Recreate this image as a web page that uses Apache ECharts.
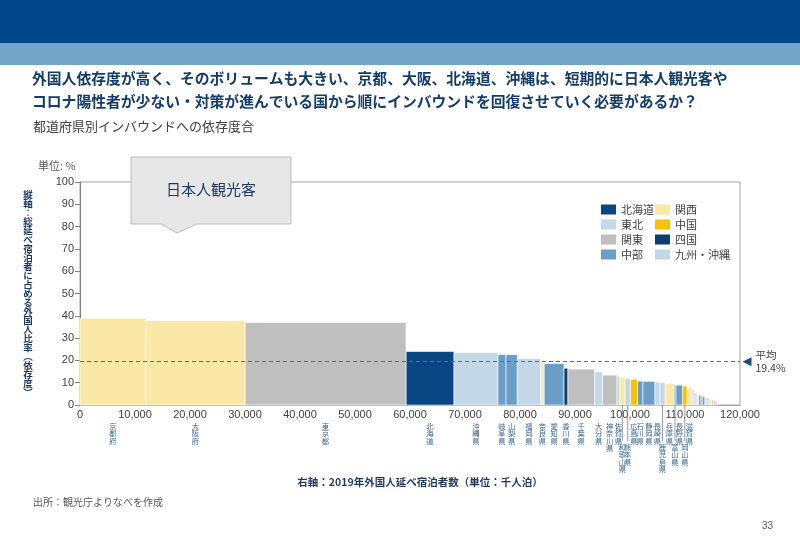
<!DOCTYPE html>
<html><head><meta charset="utf-8">
<script src="https://cdn.jsdelivr.net/npm/echarts@6/dist/echarts.min.js"></script>
<style>html,body{margin:0;padding:0;background:#fff}#c{width:800px;height:540px}</style>
</head><body><div id="c"></div>
<script>
// ---- data ----
const prefectures = ['京都府','大阪府','東京都','北海道','沖縄県','岐阜県','山梨県','福岡県','奈良県','愛知県','香川県','千葉県','大分県','神奈川県','佐賀県','和歌山県','熊本県','広島県','石川県','静岡県','長崎県','鹿児島県','兵庫県','富山県','長野県','岡山県','滋賀県',
  '青森県','宮崎県','岩手県','鳥取県','三重県','愛媛県','徳島県','新潟県','埼玉県','宮城県','茨城県','秋田県','山口県','山形県','群馬県','栃木県','島根県','高知県','福井県','福島県'];
const regionOf = ['関西','関西','関東','北海道','九州・沖縄','中部','中部','九州・沖縄','関西','中部','四国','関東','九州・沖縄','関東','九州・沖縄','関西','九州・沖縄','中国','中部','中部','九州・沖縄','九州・沖縄','関西','中部','中部','中国','関西',
  '東北','九州・沖縄','東北','中国','中部','四国','四国','中部','関東','東北','関東','東北','中国','東北','関東','関東','中国','四国','中部','東北'];
// 2019 foreign guest nights (thousand)
const foreignNights = [12000,18000,29270,8730,7950,1510,2050,4260,600,3640,670,4910,1380,2670,490,960,1000,1270,1000,2180,910,910,1640,360,1220,780,910,
  400,320,300,180,380,200,120,420,200,440,230,120,150,180,280,290,100,100,90,170];
// share of foreign guests in total guest nights (%)
const dependency = [38.8,37.9,37.0,24.0,23.5,22.6,22.6,20.8,20.3,18.6,16.5,16.1,14.9,13.4,13.0,12.4,11.9,11.5,10.7,10.6,10.3,10.0,9.5,9.0,8.9,8.5,8.0,
  7.0,5.6,5.2,4.8,4.4,4.2,4.0,3.8,3.6,3.4,3.2,3.0,2.8,2.6,2.4,2.2,2.0,1.8,1.6,1.4];
const labeledCount = 27;
const averageDependency = 19.4;
const regionNames = ['北海道','東北','関東','中部','関西','中国','四国','九州・沖縄'];
const regionColors = ['#0a4682','#c6d9e8','#bfbfbf','#6b9ec7','#fbe8a6','#f7c300','#0b3c72','#c3d7e7'];
const xTickMax = 120000, xTickStep = 10000, yTickMax = 100, yTickStep = 10;
const loweredLabels = ['和歌山県','熊本県','鹿児島県','富山県','岡山県'];

// ---- build ----
let acc = 0;
const items = prefectures.map((p, i) => {
  const it = {name: p, region: regionOf[i], x0: acc, x1: acc + foreignNights[i], y: dependency[i], idx: i};
  acc += foreignNights[i];
  return it;
});
const labelColor = '#3b6690';
function renderItem(params, api) {
  const x0 = api.value(0), x1 = api.value(1), y = api.value(2), idx = api.value(3);
  const p0 = api.coord([x0, 0]), p1 = api.coord([x1, y]);
  const color = api.visual('color');
  const children = [{
    type: 'rect',
    shape: {x: p0[0], y: p1[1], width: p1[0] - p0[0], height: p0[1] - p1[1]},
    style: {fill: color, stroke: '#ffffff', lineWidth: 0.6}
  }];
  if (idx < labeledCount) {
    const name = prefectures[idx];
    const cx = (p0[0] + p1[0]) / 2;
    const low = loweredLabels.indexOf(name) >= 0;
    const ty = p0[1] + (low ? 38 : 17);
    if (low) {
      children.push({type: 'line', shape: {x1: cx, y1: p0[1], x2: cx, y2: ty - 2},
        style: {stroke: '#7f7f7f', lineWidth: 0.8}});
    }
    children.push({type: 'text', x: cx, y: ty,
      style: {text: name.split('').join('\n'), fontSize: 7.3, lineHeight: 7.6, fill: labelColor,
        align: 'center', verticalAlign: 'top', fontFamily: 'Noto Sans CJK JP'}});
  }
  return {type: 'group', children};
}
const series = regionNames.map((r, ri) => ({
  name: r, type: 'custom', renderItem, clip: false,
  itemStyle: {color: regionColors[ri]},
  encode: {x: [0, 1], y: 2},
  data: items.filter(it => it.region === r).map(it => [it.x0, it.x1, it.y, it.idx])
}));
series.push({
  name: 'avg', type: 'line', data: [], silent: true,
  markLine: {silent: true, symbol: 'none', label: {show: false},
    lineStyle: {type: [4, 3], color: '#4f6f90', width: 1},
    data: [{yAxis: averageDependency}]},
  markPoint: {silent: true, symbol: 'triangle', symbolSize: [9, 9], symbolRotate: 90, symbolOffset: [7, 0],
    itemStyle: {color: '#1f4e79'},
    label: {show: true, position: 'right', distance: 4, formatter: '平均\n' + averageDependency + '%',
      color: '#404040', fontSize: 10.5, lineHeight: 13, fontFamily: 'Noto Sans CJK JP'},
    data: [{coord: [xTickMax, averageDependency]}]}
});

const font = 'Noto Sans CJK JP';
const yName = '縦軸︰総延べ宿泊者に占める外国人比率︵依存度︶';
const chart = echarts.init(document.getElementById('c'), null, {renderer: 'canvas'});
chart.setOption({
  animation: false,
  textStyle: {fontFamily: font},
  grid: {left: 80, right: 60, top: 182, bottom: 135, show: true, borderColor: '#a6a6a6', borderWidth: 1},
  xAxis: {type: 'value', min: 0, max: xTickMax, interval: xTickStep,
    axisLine: {show: true, lineStyle: {color: '#a6a6a6'}}, axisTick: {show: false}, splitLine: {show: false},
    axisLabel: {color: '#404040', fontSize: 11, margin: 4, fontFamily: 'Liberation Sans',
      formatter: v => v.toLocaleString('en-US')}},
  yAxis: {type: 'value', min: 0, max: yTickMax, interval: yTickStep,
    axisLine: {show: true, lineStyle: {color: '#808080'}}, axisTick: {show: true, length: 5, lineStyle: {color: '#808080'}},
    splitLine: {show: false},
    axisLabel: {color: '#404040', fontSize: 11, margin: 6, fontFamily: 'Liberation Sans'}},
  legend: [
    {data: regionNames.slice(0, 4), orient: 'vertical', left: 596, top: 199, itemWidth: 15, itemHeight: 10, itemGap: 4,
      icon: 'rect', textStyle: {color: '#404040', fontSize: 11, fontFamily: font}, selectedMode: false},
    {data: regionNames.slice(4), orient: 'vertical', left: 650, top: 199, itemWidth: 15, itemHeight: 10, itemGap: 4,
      icon: 'rect', textStyle: {color: '#404040', fontSize: 11, fontFamily: font}, selectedMode: false}
  ],
  series,
  graphic: [
    {type: 'rect', left: 0, top: 0, shape: {width: 800, height: 43}, style: {fill: '#00478a'}},
    {type: 'rect', left: 0, top: 43, shape: {width: 800, height: 22}, style: {fill: '#74a5c7'}},
    {type: 'text', left: 32, top: 67, style: {text: '外国人依存度が高く、そのボリュームも大きい、京都、大阪、北海道、沖縄は、短期的に日本人観光客や\nコロナ陽性者が少ない・対策が進んでいる国から順にインバウンドを回復させていく必要があるか？',
      fontSize: 14.8, fontWeight: 'bold', lineHeight: 23, fill: '#143c6b', fontFamily: font}},
    {type: 'text', left: 33, top: 120, style: {text: '都道府県別インバウンドへの依存度合', fontSize: 13, fill: '#404040', fontFamily: font}},
    {type: 'text', left: 38, top: 160, style: {text: '単位: %', fontSize: 11, fill: '#595959', fontFamily: font}},
    {type: 'text', x: 28, y: 190, style: {text: yName.split('').join('\n'), fontSize: 9.5, lineHeight: 9, fontWeight: 'bold',
      fill: '#1f3a5f', align: 'center', verticalAlign: 'top', fontFamily: font}},
    {type: 'polygon', z: 10, shape: {points: [[131,157],[291,157],[291,224],[197,224],[177,233],[161,224],[131,224]]},
      style: {fill: '#e7e7e7', stroke: '#bdbdbd', lineWidth: 1}},
    {type: 'text', z: 11, x: 211, y: 189, style: {text: '日本人観光客', fontSize: 15, fill: '#1f3864', align: 'center', verticalAlign: 'middle', fontFamily: font}},
    {type: 'text', x: 420, y: 482, style: {text: '右軸：2019年外国人延べ宿泊者数（単位：千人泊）', fontSize: 10.5, fontWeight: 'bold', fill: '#1f3a5f', align: 'center', verticalAlign: 'middle', fontFamily: font}},
    {type: 'text', left: 33, top: 497, style: {text: '出所：観光庁よりなべを作成', fontSize: 10, fill: '#595959', fontFamily: font}},
    {type: 'text', left: 762, top: 521, style: {text: '33', fontSize: 10, fill: '#595959', fontFamily: 'Liberation Sans'}}
  ]
});
</script></body></html>
